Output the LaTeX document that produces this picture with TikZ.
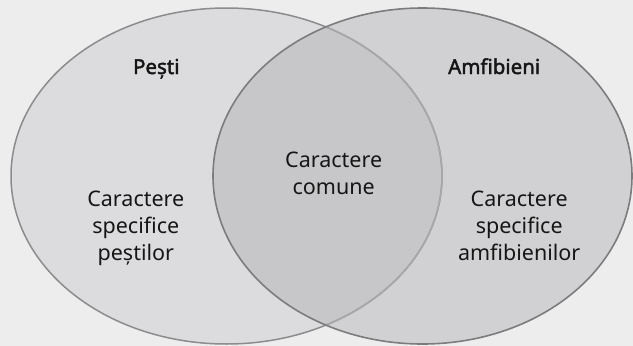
\documentclass[tikz,border=0pt]{standalone}
\usepackage{fontspec}
\setmainfont{Noto Sans}
\newfontfamily\ttlfont{Noto Sans}[FakeBold=2.2]
\definecolor{bgc}{HTML}{EDEDED}
\definecolor{leftc}{HTML}{DCDCDE}
\definecolor{rightc}{HTML}{D1D1D3}
\definecolor{overc}{HTML}{C7C7CA}
\definecolor{lstroke}{HTML}{8C8C8E}
\definecolor{lstrokein}{HTML}{A8A8AA}
\definecolor{rstroke}{HTML}{7C7C7E}
\definecolor{txt}{HTML}{161616}
\begin{document}
\begin{tikzpicture}[x=1pt,y=-1pt,
  lbl/.style={font=\fontsize{21.5}{26.9}\selectfont, text=txt, align=center, inner sep=0pt, anchor=base},
  ttl/.style={font=\ttlfont\fontsize{20.5}{26.7}\selectfont, text=txt, inner sep=0pt, anchor=base}]
\useasboundingbox (0,0) rectangle (633,346);
\fill[bgc] (0,0) rectangle (633,346);
\def\leftell{(226.5,176) ellipse [x radius=215.5, y radius=168]}
\def\rightell{(422.5,176) ellipse [x radius=209.5, y radius=168]}
\fill[leftc] \leftell;
\fill[rightc] \rightell;
\begin{scope}
  \clip \leftell;
  \fill[overc] \rightell;
\end{scope}
\draw[lstroke, line width=1.5pt] \leftell;
\begin{scope}
  \clip \rightell;
  \draw[lstrokein, line width=1.5pt] \leftell;
\end{scope}
\draw[rstroke, line width=1.6pt] \rightell;
\node[ttl] (pesti) at (156.3,74) {Pești};
\node[ttl] (amfi) at (494.2,74) {Amfibieni};
\node[lbl] (comun) at (333.7,194) {Caractere\\comune};
\node[lbl] (spp) at (135.8,260.5) {Caractere\\specifice\\peștilor};
\node[lbl] (spa) at (519.2,260.5) {Caractere\\specifice\\amfibienilor};
\end{tikzpicture}
\end{document}
